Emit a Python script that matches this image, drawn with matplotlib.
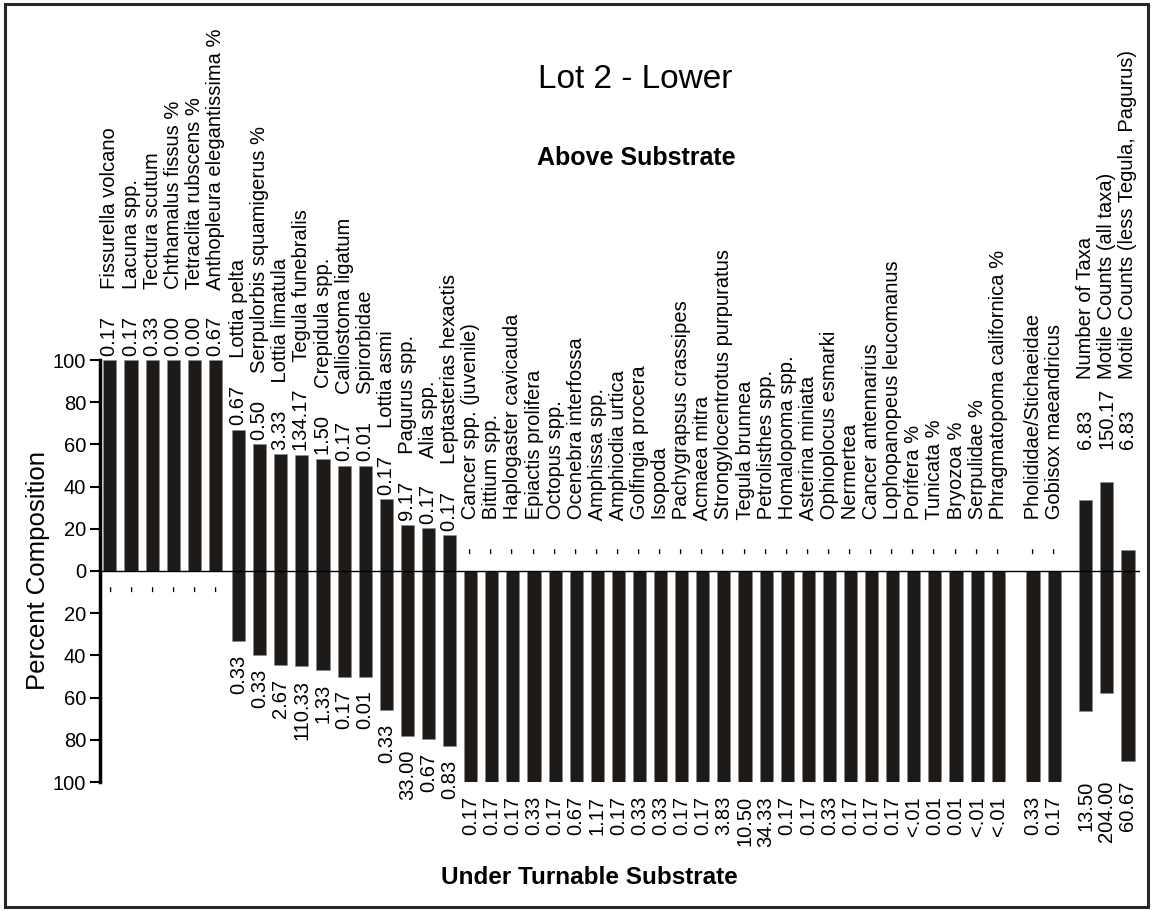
import numpy as np
import matplotlib.pyplot as plt
from matplotlib.patches import Rectangle

plt.rcParams['font.family'] = ['Liberation Sans', 'DejaVu Sans']

# taxa, in plotting order
taxa = [
    'Fissurella volcano', 'Lacuna spp.', 'Tectura scutum', 'Chthamalus fissus %',
    'Tetraclita rubscens %', 'Anthopleura elegantissima %',
    'Lottia pelta', 'Serpulorbis squamigerus %', 'Lottia limatula', 'Tegula funebralis',
    'Crepidula spp.', 'Calliostoma ligatum', 'Spirorbidae', 'Lottia asmi', 'Pagurus spp.',
    'Alia spp.', 'Leptasterias hexactis', 'Cancer spp. (juvenile)', 'Bittium spp.',
    'Haplogaster cavicauda', 'Epiactis prolifera', 'Octopus spp.', 'Ocenebra interfossa',
    'Amphissa spp.', 'Amphiodia urtica', 'Golfingia procera', 'Isopoda',
    'Pachygrapsus crassipes', 'Acmaea mitra', 'Strongylocentrotus purpuratus',
    'Tegula brunnea', 'Petrolisthes spp.', 'Homalopoma spp.', 'Asterina miniata',
    'Ophioplocus esmarki', 'Nermertea', 'Cancer antennarius', 'Lophopanopeus leucomanus',
    'Porifera %', 'Tunicata %', 'Bryozoa %', 'Serpulidae %', 'Phragmatopoma californica %',
    'Pholididae/Stichaeidae', 'Gobisox maeandricus',
    'Number of Taxa', 'Motile Counts (all taxa)', 'Motile Counts (less Tegula, Pagurus)',
]

# mean counts / % cover above the substrate ('-' = not found)
above = [
    '0.17', '0.17', '0.33', '0.00', '0.00', '0.67',
    '0.67', '0.50', '3.33', '134.17', '1.50', '0.17', '0.01', '0.17', '9.17', '0.17', '0.17',
    '-', '-', '-', '-', '-', '-', '-', '-', '-', '-', '-', '-', '-', '-', '-', '-', '-',
    '-', '-', '-', '-', '-', '-', '-', '-', '-',
    '-', '-',
    '6.83', '150.17', '6.83',
]

# mean counts / % cover under turnable substrate
under = [
    '-', '-', '-', '-', '-', '-',
    '0.33', '0.33', '2.67', '110.33', '1.33', '0.17', '0.01', '0.33', '33.00', '0.67', '0.83',
    '0.17', '0.17', '0.17', '0.33', '0.17', '0.67', '1.17', '0.17', '0.33', '0.33',
    '0.17', '0.17', '3.83', '10.50', '34.33', '0.17', '0.17', '0.33', '0.17', '0.17',
    '0.17', '<.01', '0.01', '0.01', '<.01', '<.01',
    '0.33', '0.17',
    '13.50', '204.00', '60.67',
]

group_sizes = [6, 37, 2, 3]
group_gaps = [0.1, 0.65, 0.5]


def to_num(s):
    if s == '-':
        return None
    if s.startswith('<'):
        return 0.005
    return float(s)


up_pct = []
for a, u in zip(above, under):
    a, u = to_num(a), to_num(u)
    if u is None:
        up_pct.append(100.0)
    elif a is None:
        up_pct.append(0.0)
    else:
        up_pct.append(100.0 * a / (a + u))
up_pct = np.array(up_pct)
down_pct = 100.0 - up_pct

pos = []
group_of = []
x = 0.0
for gi, size in enumerate(group_sizes):
    if gi > 0:
        x += group_gaps[gi - 1]
    for k in range(size):
        pos.append(x)
        group_of.append(gi)
        x += 1
pos = np.array(pos)

fig = plt.figure(figsize=(11.53, 9.11), dpi=100)
ax = fig.add_axes([100 / 1153, 1 - 782 / 911, 1040 / 1153, 422 / 911])

bar_color = '#1e1a18'
ax.bar(pos, up_pct, width=0.62, color=bar_color, edgecolor='#8a8a8a', linewidth=0.4)
ax.bar(pos, -down_pct, width=0.62, color=bar_color, edgecolor='#8a8a8a', linewidth=0.4)
ax.axhline(0, color='black', lw=1.0, zorder=3)

lab_size = 14.5
kw = dict(textcoords='offset points', rotation=90, ha='center', fontsize=lab_size)
last_group = len(group_sizes) - 1
for p, g, top, bot, a, u, name in zip(pos, group_of, up_pct, down_pct, above, under, taxa):
    if g == last_group:
        # summary rows: labels on a common line, names tabbed to one column
        ax.annotate(a, (p, 56), xytext=(0, 3), va='bottom', **kw)
        ax.annotate(name, (p, 56), xytext=(0, 53), va='bottom', **kw)
        ax.annotate(u, (p, -93), xytext=(0, -10), va='top', **kw)
        continue
    # a lone dash sits a little higher above the zero line
    lift = 12 if a == '-' else 3
    ax.annotate(f'{a}     {name}', (p, top), xytext=(0, lift), va='bottom', **kw)
    ax.annotate(u, (p, -bot), xytext=(0, -10), va='top', **kw)

ax.set_xlim(-0.47, 48.82)
ax.set_ylim(-100, 100)
ticks = np.arange(-100, 101, 20)
ax.set_yticks(ticks)
ax.set_yticklabels([str(abs(t)) for t in ticks], fontsize=14.5)
ax.tick_params(axis='y', direction='out', length=7, width=1.5, pad=3)
ax.set_xticks([])
for side in ['top', 'right', 'bottom']:
    ax.spines[side].set_visible(False)
ax.spines['left'].set_linewidth(2.5)
ax.set_ylabel('Percent Composition', fontsize=18.5, labelpad=2)

fig.text(635 / 1153, 1 - 80 / 911, 'Lot 2 - Lower', fontsize=24, ha='center', va='center')
fig.text(636 / 1153, 1 - 158 / 911, 'Above Substrate', fontsize=18, fontweight='bold',
         ha='center', va='center')
fig.text(589 / 1153, 1 - 877 / 911, 'Under Turnable Substrate', fontsize=17.5,
         fontweight='bold', ha='center', va='center')

fig.patches.append(Rectangle((5 / 1153, 4 / 911), 1143 / 1153, 903 / 911,
                             transform=fig.transFigure, fill=False,
                             edgecolor='#2a2624', linewidth=2.2))

fig.savefig('out.png', dpi=100)
